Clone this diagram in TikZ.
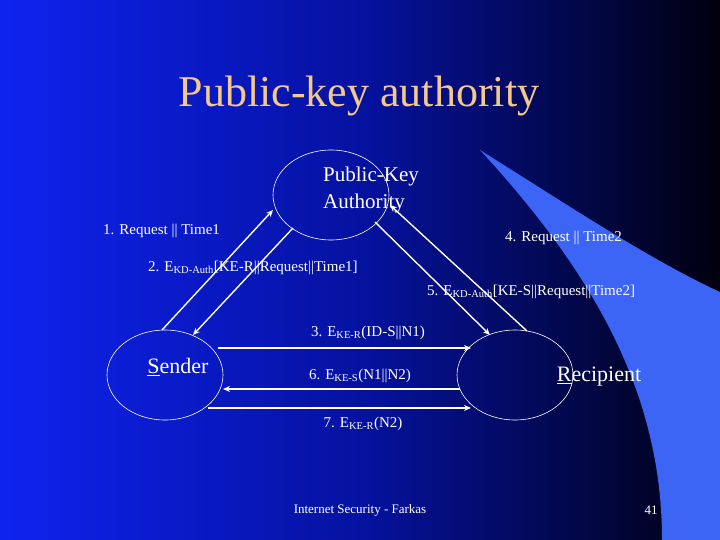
\documentclass[tikz,border=0pt]{standalone}
\usepackage{fontspec}
\setmainfont{Liberation Serif}
\usetikzlibrary{arrows.meta,shapes.geometric}
\definecolor{bandblue}{RGB}{60,100,245}
\definecolor{titleor}{RGB}{245,200,140}
\begin{document}
\begin{tikzpicture}[x=1pt,y=-1pt,
  ell/.style={draw=white,line width=0.6pt,ellipse,minimum width=116pt,minimum height=90pt},
  arr/.style={white,line width=1.4pt,-{Stealth[length=7pt,width=6pt]}},
  lbl/.style={text=white,font=\fontsize{15}{18}\selectfont,inner sep=0pt}]
\useasboundingbox (0,0) rectangle (720,540);
\shade[left color={rgb,255:red,15;green,35;blue,240},right color={rgb,255:red,0;green,0;blue,15},middle color={rgb,255:red,5;green,18;blue,160}] (0,0) rectangle (720,540);
\fill[bandblue] (480,150) .. controls (560,200) and (650,260) .. (720,292) -- (720,540) -- (662,540) .. controls (662,400) and (600,280) .. (480,150) -- cycle;
\node[text=titleor,font=\fontsize{44}{48}\selectfont] (title) at (359,96) {Public-key authority};
\node[ell] (pka) at (331,195) {};
\node[ell] (snd) at (165,375) {};
\node[ell] (rcp) at (515,375) {};
\node[text=white,font=\fontsize{21}{27}\selectfont,align=left,inner sep=0pt] (pkat) at (371,190) {Public-Key\\Authority};
\node[text=white,font=\fontsize{22}{26}\selectfont,inner sep=0pt] (sndt) at (178,367) {\underline{S}ender};
\node[text=white,font=\fontsize{22}{26}\selectfont,inner sep=0pt] (rcpt) at (599,377) {\underline{R}ecipient};
\coordinate (a1s) at (162,330); \coordinate (a1e) at (273,210);
\coordinate (a2s) at (293,228); \coordinate (a2e) at (193,335);
\coordinate (a4s) at (527,331); \coordinate (a4e) at (390,205);
\coordinate (a5s) at (375,222); \coordinate (a5e) at (490,335);
\coordinate (a3s) at (218,348); \coordinate (a3e) at (471,348);
\coordinate (a6s) at (460,389); \coordinate (a6e) at (223,389);
\coordinate (a7s) at (208,408); \coordinate (a7e) at (471,408);
\draw[arr] (a1s) -- (a1e);
\draw[arr] (a2s) -- (a2e);
\draw[arr] (a4s) -- (a4e);
\draw[arr] (a5s) -- (a5e);
\draw[arr] (a3s) -- (a3e);
\draw[arr] (a6s) -- (a6e);
\draw[arr] (a7s) -- (a7e);
\node[lbl,anchor=west] (l1) at (103,231) {1. Request || Time1};
\node[lbl,anchor=west] (l4) at (505,238) {4. Request || Time2};
\node[lbl,anchor=west] (l2) at (148,268) {2. E\textsubscript{KD-Auth}[KE-R||Request||Time1]};
\node[lbl,anchor=west] (l5) at (427,292) {5. E\textsubscript{KD-Auth}[KE-S||Request||Time2]};
\node[lbl] (l3) at (368,333) {3. E\textsubscript{KE-R}(ID-S||N1)};
\node[lbl] (l6) at (360,376) {6. E\textsubscript{KE-S}(N1||N2)};
\node[lbl] (l7) at (363,424) {7. E\textsubscript{KE-R}(N2)};
\node[text=white,font=\fontsize{13}{15}\selectfont] (foot) at (360,510) {Internet Security - Farkas};
\node[text=white,font=\fontsize{13}{15}\selectfont] (pg) at (651,510) {41};
\end{tikzpicture}
\end{document}
